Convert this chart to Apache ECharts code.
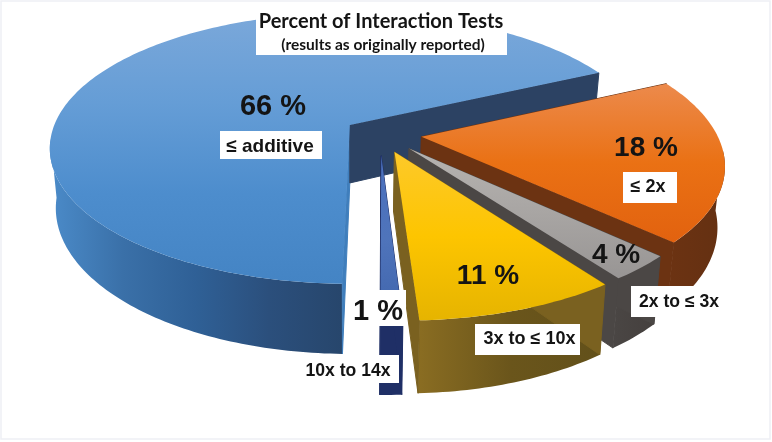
<!DOCTYPE html>
<html>
<head>
<meta charset="utf-8">
<style>
  html, body { margin: 0; padding: 0; background: #fff; }
  #chart { width: 772px; height: 442px; }
</style>
<script src="https://cdn.jsdelivr.net/npm/echarts@6/dist/echarts.min.js"></script>
</head>
<body>
<div id="chart"></div>
<script>
// labels as printed on the slices
const sliceNames = ['≤ additive', '≤ 2x', '2x to ≤ 3x', '3x to ≤ 10x', '10x to 14x']
const percentLabels = ['66 %', '18 %', '4 %', '11 %', '1 %']
// slice sizes as drawn (the picture's angles differ a bit from the printed percents)
const drawnShare = [67.6, 19.2, 3.0, 9.1, 1.0]
// how far each slice is pulled out of the pie, in radii
const explode = [0.12, 0.14, 0.144, 0.141, 0.16]
const sliceRadius = [1, 0.988, 0.975, 0.985, 0.965]

const titleText = 'Percent of Interaction Tests'
const subtitleText = '(results as originally reported)'

// fake 3D: a tilted disc with a bit of perspective
const view = { cx: 350, cy: 125, a: 295.5, b: 131.4, p: 0.173, depth: 58, shrink: 0.98, u0: 0.1, v0: 0.065, startDeg: -1.2 }

const grad = (x0, y0, x1, y1, colors) => new echarts.graphic.LinearGradient(x0, y0, x1, y1,
  colors.map((c, i) => ({ offset: i / (colors.length - 1), color: c })))

const sliceStyles = [
  {
    top: grad(0, 0, 0, 1, ['#7ba8da', '#659dd6', '#4d8dcd', '#4484c4']),
    edge: '#2c4263',
    edgeFirst: '#3f7ebc',
    wall: grad(0, 0, 1, 0, ['#4b8bc9', '#3a70a8', '#2f6096', '#2b4f7c', '#27466c'])
  },
  {
    top: grad(0, 0, 0, 1, ['#ec8a4c', '#ea7114', '#e2620f']),
    edge: '#6c3312',
    wall: grad(0, 0, 1, 0, ['#6c3312', '#643012'])
  },
  {
    top: grad(0, 0, 0, 1, ['#b6b3b0', '#a8a5a3', '#989594']),
    edge: '#4b4745',
    wall: grad(0, 0, 1, 0, ['#4a4644', '#443f3d'])
  },
  {
    top: grad(0, 0, 0, 1, ['#fdc92a', '#fdc500', '#e6b400']),
    edge: '#7a6120',
    wall: grad(0, 0, 1, 0, ['#8a6d22', '#6a551b', '#62501a'])
  },
  {
    top: grad(0, 0, 0, 1, ['#4a70bd', '#4f74bb', '#3f64ab']),
    edge: '#1f2f66',
    wall: '#1f2f66'
  }
]

function project(u, v) {
  const k = 1 / (1 - view.p * v)
  return { x: view.cx + view.a * u * k, y: view.cy + view.b * v * k, k }
}

function lower(pt) {
  return [view.cx + (pt.x - view.cx) * view.shrink, pt.y + view.depth * pt.k]
}

function renderSlice(params, api) {
  const i = params.dataIndex
  const rad = Math.PI / 180
  const total = drawnShare.reduce((s, v) => s + v, 0)
  let from = view.startDeg
  for (let j = 0; j < i; j++) from -= 360 * drawnShare[j] / total
  const span = 360 * api.value(0) / total
  const to = from - span
  const mid = (from + to) / 2 * rad
  const cu = view.u0 + explode[i] * Math.sin(mid)
  const cv = view.v0 + explode[i] * Math.cos(mid)
  const r = sliceRadius[i]

  const apex = project(cu, cv)
  const arc = []
  const steps = Math.max(4, Math.round(span))
  for (let s = 0; s <= steps; s++) {
    const t = (from - span * s / steps) * rad
    const pt = project(cu + r * Math.sin(t), cv + r * Math.cos(t))
    pt.front = Math.cos(t) > 0.1
    arc.push(pt)
  }
  const first = arc[0]
  const last = arc[arc.length - 1]
  const st = sliceStyles[i]
  const poly = (points, fill, stroke) => ({
    type: 'polygon', shape: { points }, style: { fill, stroke: stroke || null, lineWidth: 1 }
  })

  const children = []
  const visible = arc.filter(p => p.front)
  if (visible.length > 1) {
    children.push(poly(
      visible.map(p => [p.x, p.y]).concat(visible.slice().reverse().map(lower)),
      st.wall
    ))
  }
  // radial faces go over the outer wall so the seam between them does not show
  const firstColor = st.edgeFirst || st.edge
  children.push(poly([[apex.x, apex.y], [first.x, first.y], lower(first), lower(apex)], firstColor, firstColor))
  children.push(poly([[apex.x, apex.y], [last.x, last.y], lower(last), lower(apex)], st.edge, st.edge))
  children.push(poly([[apex.x, apex.y]].concat(arc.map(p => [p.x, p.y])), st.top))
  return { type: 'group', children }
}

// white label boxes and texts on top of the pie
const box = (x, y, width, height) => ({
  type: 'rect', z: 10, shape: { x, y, width, height }, style: { fill: '#fff' }
})
const label = (text, x, y, size, family) => ({
  type: 'text', z: 11, x, y,
  style: {
    text, fill: '#141414', align: 'center', verticalAlign: 'middle',
    font: 'bold ' + size + 'px ' + (family || '"Liberation Sans"')
  }
})

const chart = echarts.init(document.getElementById('chart'), null, { renderer: 'canvas' })
chart.setOption({
  backgroundColor: '#fff',
  animation: false,
  series: [{
    type: 'custom',
    coordinateSystem: 'none',
    renderItem: renderSlice,
    silent: true,
    data: drawnShare.map((v, i) => [v, i])
  }],
  graphic: [
    { type: 'rect', z: 9, shape: { x: 1, y: 1, width: 769, height: 438 }, style: { fill: 'none', stroke: '#eef0f5', lineWidth: 1.5 } },
    box(256, 3, 251, 52),
    label(titleText, 381, 22, 20, 'Lato'),
    label(subtitleText, 383, 45, 15.5, 'Lato'),
    label(percentLabels[0], 273, 106.5, 29),
    box(220, 131, 102, 28),
    label(sliceNames[0], 270, 146.5, 19),
    label(percentLabels[1], 646, 148.5, 28),
    box(623, 172, 54, 31),
    label(sliceNames[1], 648, 187.5, 18),
    label(percentLabels[2], 616, 255.5, 28),
    box(631, 286, 92, 31),
    label(sliceNames[2], 679, 302, 17.6),
    label(percentLabels[3], 488, 276.5, 28),
    box(475, 324, 105, 31),
    label(sliceNames[3], 529.5, 339, 18),
    box(346, 290, 60, 36),
    label(percentLabels[4], 378, 311.5, 29),
    box(300, 355, 99, 28),
    label(sliceNames[4], 348, 371, 17.6)
  ]
})
</script>
</body>
</html>
